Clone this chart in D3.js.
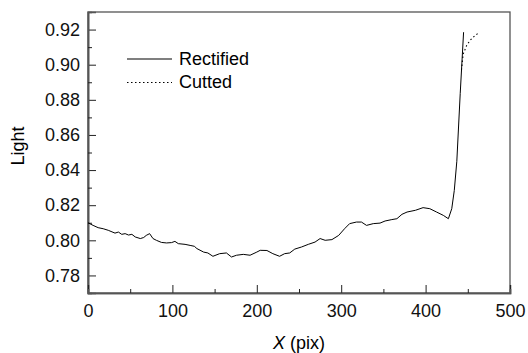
<!DOCTYPE html>
<html>
<head>
<meta charset="utf-8">
<script src="https://cdn.jsdelivr.net/npm/d3@7/dist/d3.min.js"></script>
<style>
  body { margin: 0; background: #fff; }
  svg { display: block; font-family: Arial, "Liberation Sans", sans-serif; }
</style>
</head>
<body>
<svg id="chart" width="528" height="353"></svg>
<script>
// Rectified curve
var rectifiedX = [0, 6, 12, 18, 24, 32, 36, 40, 44, 48, 52, 56, 62, 66, 69, 73, 77, 81, 87, 93,
  99, 103, 107, 115, 121, 126, 129, 137, 142, 148, 156, 164, 170, 176, 184, 192, 200, 204, 212, 219,
  227, 233, 239, 245, 253, 261, 269, 275, 281, 289, 297, 304, 310, 318, 324, 330, 338, 346, 352, 360,
  366, 372, 378, 388, 397, 405, 413, 421, 427, 431, 434, 437, 441, 445];
var rectifiedY = [0.8100, 0.8085, 0.8072, 0.8066, 0.8057, 0.8041, 0.8047, 0.8034, 0.8038, 0.8030,
  0.8034, 0.8019, 0.8010, 0.8016, 0.8028, 0.8038, 0.8010, 0.8000, 0.7988, 0.7985,
  0.7987, 0.7994, 0.7981, 0.7977, 0.7971, 0.7966, 0.7953, 0.7933, 0.7928, 0.7909,
  0.7924, 0.7928, 0.7905, 0.7915, 0.7920, 0.7915, 0.7933, 0.7943, 0.7942, 0.7924,
  0.7909, 0.7924, 0.7928, 0.7950, 0.7962, 0.7977, 0.7990, 0.8010, 0.8000, 0.8004,
  0.8028, 0.8066, 0.8095, 0.8104, 0.8104, 0.8085, 0.8095, 0.8098, 0.8110, 0.8118,
  0.8123, 0.8148, 0.8161, 0.8171, 0.8186, 0.8180, 0.8161, 0.8142, 0.8123, 0.8180,
  0.8284, 0.8450, 0.8835, 0.9185];

// Cutted tail (dotted), the rest lies under the solid line
var cuttedX = [442.5, 444.5, 448.7, 452.6, 456.5, 462.4];
var cuttedY = [0.897, 0.906, 0.911, 0.9138, 0.9157, 0.918];

var xTicks = [0, 100, 200, 300, 400, 500];
var xMinor = [50, 150, 250, 350, 450];
var yTicks = [0.78, 0.80, 0.82, 0.84, 0.86, 0.88, 0.90, 0.92];
var yMinor = [0.77, 0.79, 0.81, 0.83, 0.85, 0.87, 0.89, 0.91];

var margin = { top: 12, right: 18, bottom: 60, left: 88 };
var width = 528 - margin.left - margin.right;
var height = 353 - margin.top - margin.bottom;

var svg = d3.select("#chart");
var g = svg.append("g")
    .attr("transform", "translate(" + margin.left + "," + margin.top + ")");

var x = d3.scaleLinear().domain([0, 500]).range([0, width]);
var y = d3.scaleLinear().domain([0.77, 0.93]).range([height, 0]);

// frame (top and right)
g.append("rect")
    .attr("width", width)
    .attr("height", height)
    .style("fill", "none")
    .style("stroke", "#555")
    .style("stroke-width", 1.3);

// y axis, ticks inward
g.append("g")
    .call(d3.axisLeft(y).tickValues(yTicks).tickSize(-8).tickPadding(8)
        .tickFormat(d3.format(".2f")));
g.append("g")
    .call(d3.axisLeft(y).tickValues(yMinor).tickSize(-4).tickFormat(""));

// x axis, ticks inward
g.append("g")
    .attr("transform", "translate(0," + height + ")")
    .call(d3.axisBottom(x).tickValues(xTicks).tickSize(-8).tickPadding(11));
g.append("g")
    .attr("transform", "translate(0," + height + ")")
    .call(d3.axisBottom(x).tickValues(xMinor).tickSize(-4).tickFormat(""));

g.selectAll(".domain").style("stroke", "#555").style("stroke-width", 1.6);
g.selectAll(".tick line").style("stroke", "#222").style("stroke-width", 1);
g.selectAll(".tick text")
    .style("font-size", "18px")
    .style("fill", "#111")
    .style("font-family", "Arial, 'Liberation Sans', sans-serif");

// lines
var rectified = rectifiedX.map(function(d, i) { return [d, rectifiedY[i]]; });
var cutted = cuttedX.map(function(d, i) { return [d, cuttedY[i]]; });

var line = d3.line()
    .x(function(d) { return x(d[0]); })
    .y(function(d) { return y(d[1]); });

g.append("path")
    .datum(rectified)
    .attr("d", line)
    .style("fill", "none")
    .style("stroke", "#000")
    .style("stroke-width", 1);

g.append("path")
    .datum(cutted)
    .attr("d", line)
    .style("fill", "none")
    .style("stroke", "#000")
    .style("stroke-width", 1.1)
    .style("stroke-dasharray", "1.5,2.5");

// legend
var legend = g.append("g").attr("transform", "translate(39,47)");
legend.append("line")
    .attr("x1", 0).attr("x2", 45).attr("y1", 0).attr("y2", 0)
    .style("stroke", "#000").style("stroke-width", 1.1);
legend.append("text")
    .attr("x", 52).attr("y", 6)
    .style("font-size", "18px")
    .text("Rectified");
legend.append("line")
    .attr("x1", 0).attr("x2", 45).attr("y1", 23.5).attr("y2", 23.5)
    .style("stroke", "#000").style("stroke-width", 1.1)
    .style("stroke-dasharray", "1.5,2.5");
legend.append("text")
    .attr("x", 52).attr("y", 29)
    .style("font-size", "18px")
    .text("Cutted");

// axis titles
svg.append("text")
    .attr("transform", "translate(24,146) rotate(-90)")
    .attr("text-anchor", "middle")
    .style("font-size", "18px")
    .text("Light");

var xt = svg.append("text")
    .attr("x", margin.left + width / 2)
    .attr("y", 349)
    .attr("text-anchor", "middle")
    .style("font-size", "18px");
xt.append("tspan").style("font-style", "italic").text("X");
xt.append("tspan").text(" (pix)");
</script>
</body>
</html>
